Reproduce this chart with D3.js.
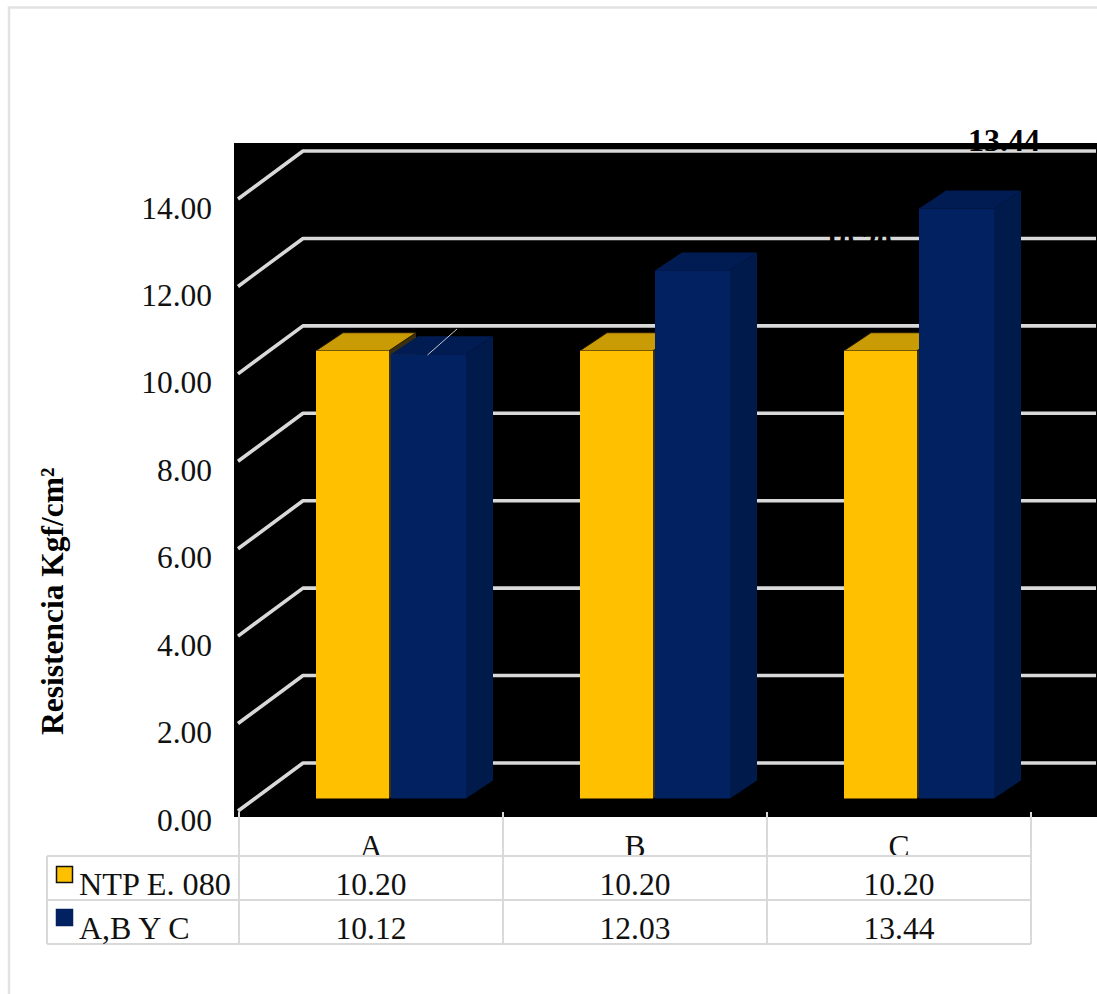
<!DOCTYPE html>
<html>
<head>
<meta charset="utf-8">
<script src="https://cdn.jsdelivr.net/npm/d3@7/dist/d3.min.js"></script>
<style>
  html, body { margin: 0; padding: 0; background: #fff; }
  svg { display: block; font-family: "Liberation Serif", "Times New Roman", serif; }
</style>
</head>
<body>
<svg id="chart" width="1097" height="994"></svg>
<script>
// Resistance per sample, pseudo-3D column chart with a data table below.
const categories = ["A", "B", "C"];
const seriesNames = ["NTP E. 080", "A,B Y C"];
const ntpValues = [10.20, 10.20, 10.20];
const sampleValues = [10.12, 12.03, 13.44];
const yTicks = [0, 2, 4, 6, 8, 10, 12, 14];
const yTitle = "Resistencia Kgf/cm²";
const palettes = [
  { front: "#ffc000", top: "#c99b05", side: "#3a3010", edge: "#2a1a00" },
  { front: "#012160", top: "#001c52", side: "#001a4c", edge: "none" }
];
const seriesValues = [ntpValues, sampleValues];

const svg = d3.select("#chart");
const gridColor = "#d9d9d9";
const depth = { x: 27, y: -18 };   // offset from the front plane to the back wall

// Outer chart-area frame (its right and bottom edges fall off the page)
svg.append("path").attr("d", "M9,994V7.5H1097").attr("fill", "none")
  .attr("stroke", "#e2e2e2").attr("stroke-width", 2.5);

// Dark plot backdrop
const plot = { left: 234, right: 1097, top: 143, bottom: 817 };
svg.append("rect").attr("x", plot.left).attr("y", plot.top)
  .attr("width", plot.right - plot.left).attr("height", plot.bottom - plot.top)
  .attr("fill", "#000");

// Scales: front-left floor ticks, back wall, and the bars themselves
const yFront = d3.scaleLinear().domain([0, 14]).range([811, 199]);
const yWall = d3.scaleLinear().domain([0, 14]).range([763, 151]);
const yBar = d3.scaleLinear().domain([0, 14]).range([798.5, 798.5 - 14 * 43.9]);
const xCat = d3.scaleBand().domain(categories).range([239, 1031]);
const xSeries = d3.scaleBand().domain(seriesNames).range([77, 227]);

// Wall gridlines, folded at the left corner
svg.append("g").selectAll("path").data(yTicks).join("path")
  .attr("d", v => d3.line()([[238, yFront(v)], [303, yWall(v)], [1096, yWall(v)]]))
  .attr("fill", "none").attr("stroke", gridColor).attr("stroke-width", 3.6)
  .attr("stroke-linejoin", "round");

// Data label sitting on the wall, black on black so only the gridline reveals it
svg.append("text").attr("x", 858).attr("y", 251).attr("text-anchor", "middle")
  .attr("font-size", 30).attr("font-weight", "bold").attr("fill", "#000")
  .text(ntpValues[2].toFixed(2));

// Columns: side, top and front faces, drawn left to right
const barWidth = [73, 75];
const barGroups = svg.append("g");
categories.forEach((cat, c) => {
  seriesNames.forEach((name, s) => {
    const v = seriesValues[s][c];
    const pal = palettes[s];
    const x0 = xCat(cat) + xSeries(name);
    const x1 = x0 + barWidth[s];
    const yTop = yBar(v), yBase = yBar(0);
    const g = barGroups.append("g");
    g.append("path")
      .attr("d", d3.line()([[x1, yTop], [x1 + depth.x, yTop + depth.y], [x1 + depth.x, yBase + depth.y], [x1, yBase]]) + "Z")
      .attr("fill", pal.side);
    g.append("path")
      .attr("d", d3.line()([[x0, yTop], [x0 + depth.x, yTop + depth.y], [x1 + depth.x, yTop + depth.y], [x1, yTop]]) + "Z")
      .attr("fill", pal.top).attr("stroke", pal.edge).attr("stroke-width", 1);
    g.append("rect").attr("x", x0).attr("y", yTop)
      .attr("width", barWidth[s]).attr("height", yBase - yTop).attr("fill", pal.front);
  });
});

// Leader line left over from the first column's label
svg.append("line").attr("x1", 427.5).attr("y1", 355).attr("x2", 457).attr("y2", 329)
  .attr("stroke", "#c8c8c8").attr("stroke-width", 1);

// Label of the tallest column, straddling the top of the backdrop
svg.append("text").attr("x", 1004).attr("y", 151).attr("text-anchor", "middle")
  .attr("font-size", 32).attr("font-weight", "bold").attr("fill", "#000")
  .text(sampleValues[2].toFixed(2));

// Value-axis labels
svg.append("g").selectAll("text").data(yTicks).join("text")
  .attr("x", 212).attr("y", v => yFront(v) + 19.5).attr("text-anchor", "end")
  .attr("font-size", 31.5).attr("fill", "#111").text(v => v.toFixed(2));

// Axis title
svg.append("text").attr("transform", "translate(63,735) rotate(-90)")
  .attr("font-size", 31.5).attr("font-weight", "bold").attr("fill", "#000").text(yTitle);

// Category labels, cut by the table's top rule
svg.append("g").selectAll("text").data(categories).join("text")
  .attr("x", c => xCat(c) + xCat.bandwidth() / 2).attr("y", 857).attr("text-anchor", "middle")
  .attr("font-size", 31.5).attr("fill", "#111").text(c => c);

// Data table grid
const rowLines = [856, 900, 944];
const colLines = [239].concat(categories.map(c => xCat(c) + xCat.bandwidth()));
const tableLeft = 47, tableRight = 1031;
const grid = svg.append("g").attr("stroke", gridColor).attr("stroke-width", 2);
grid.selectAll(".row").data(rowLines).join("line").attr("class", "row")
  .attr("x1", tableLeft).attr("x2", tableRight).attr("y1", d => d).attr("y2", d => d);
grid.selectAll(".col").data(colLines).join("line").attr("class", "col")
  .attr("x1", d => d).attr("x2", d => d).attr("y1", 812).attr("y2", 944);
grid.append("line").attr("x1", tableLeft).attr("x2", tableLeft).attr("y1", 856).attr("y2", 944);

// Table rows: legend key, series name, one value per category
seriesNames.forEach((name, s) => {
  const cy = (rowLines[s] + rowLines[s + 1]) / 2;
  svg.append("rect").attr("x", 56.5).attr("y", cy - 9.5 + (s === 0 ? -2 : -3))
    .attr("width", 16).attr("height", 16).attr("fill", palettes[s].front)
    .attr("stroke", s === 0 ? "#111" : palettes[s].front).attr("stroke-width", 1.5);
  const label = svg.append("text").attr("x", 79).attr("y", cy + 16.5).attr("font-size", 32)
    .attr("fill", "#111").text(name);
  if (s === 0) label.attr("textLength", 152).attr("lengthAdjust", "spacingAndGlyphs");
  svg.append("g").selectAll("text").data(seriesValues[s]).join("text")
    .attr("x", (d, i) => xCat(categories[i]) + xCat.bandwidth() / 2).attr("y", cy + 16.5)
    .attr("text-anchor", "middle").attr("font-size", 31.5).attr("fill", "#111")
    .text(d => d.toFixed(2));
});
</script>
</body>
</html>
